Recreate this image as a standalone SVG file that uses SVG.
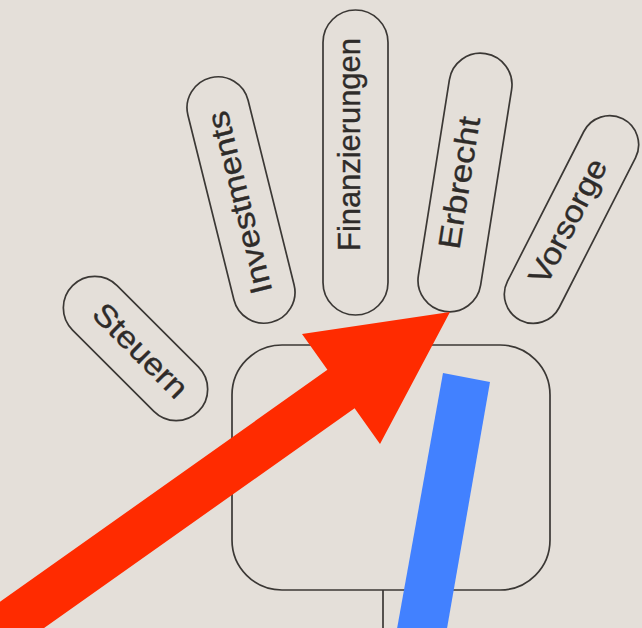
<svg xmlns="http://www.w3.org/2000/svg" width="642" height="628" viewBox="0 0 642 628">
<style>
.pill{fill:none;stroke:#3b3835;stroke-width:1.7}
.palm{fill:none;stroke:#3b3835;stroke-width:1.7}
.lbl{font-family:"Liberation Sans",Arial,sans-serif;font-size:31px;fill:#2e2b29;stroke:#2e2b29;stroke-width:0.35;text-anchor:middle}
</style>
<rect width="642" height="628" fill="#E4DFD9"/>
<g id="steuern" transform="translate(135.5,348.5) rotate(45)">
  <rect class="pill" x="-89" y="-31.5" width="178" height="63" rx="31.5"/>
  <text class="lbl" transform="scale(1.11,1)" x="4.5" y="8.5">Steuern</text>
</g>
<g id="investments" transform="translate(241,200) rotate(-104)">
  <rect class="pill" x="-126" y="-31" width="252" height="62" rx="31"/>
  <text class="lbl" transform="scale(1.12,1)" x="-2" y="8.5">Investments</text>
</g>
<g id="finanzierungen" transform="translate(355.5,162.5) rotate(-90)">
  <rect class="pill" x="-152.5" y="-32.5" width="305" height="65" rx="32.5"/>
  <text class="lbl" x="18" y="4.5" textLength="213">Finanzierungen</text>
</g>
<g id="erbrecht" transform="translate(465,182.5) rotate(-81)">
  <rect class="pill" x="-130.5" y="-31.5" width="261" height="63" rx="31.5"/>
  <text class="lbl" transform="scale(1.14,1)" x="-1" y="5">Erbrecht</text>
</g>
<g id="vorsorge" transform="translate(571.5,219.5) rotate(-63)">
  <rect class="pill" x="-113" y="-29" width="226" height="58" rx="29"/>
  <text class="lbl" transform="scale(1.1,1)" x="-3" y="8">Vorsorge</text>
</g>
<g id="palm">
  <rect class="palm" x="232" y="345" width="318" height="245" rx="50"/>
</g>
<g id="connectors">
  <line x1="383" y1="590" x2="383" y2="628" stroke="#3b3835" stroke-width="1.7"/>
  <polygon id="red-arrow" fill="#FF2B00" points="450,312 380,444 354.6,408.2 -53.4,697 -80.6,659 327.4,369.8 302,334"/>
  <polygon id="blue-bar" fill="#4281FF" points="443,373 490,382 445,640 395,640"/>
</g>
</svg>
